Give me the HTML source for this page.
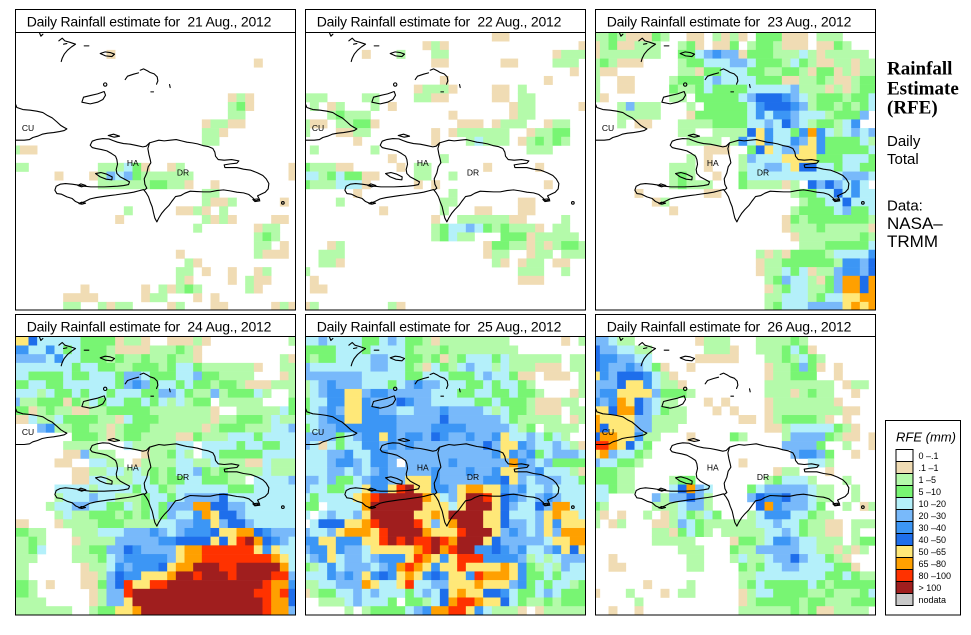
<!DOCTYPE html>
<html><head><meta charset="utf-8">
<style>
html,body{margin:0;padding:0;background:#fff;width:971px;height:635px;overflow:hidden}
svg{position:absolute;left:0;top:0}
.tt{font-family:"Liberation Sans",Arial,sans-serif;font-size:14px;letter-spacing:-0.2px;white-space:pre}
.lb{font-family:"Liberation Sans",Arial,sans-serif;font-size:8.5px}
.lg{font-family:"Liberation Sans",Arial,sans-serif;font-size:9px}
</style></head>
<body>
<svg width="971" height="635" viewBox="0 0 971 635" xmlns="http://www.w3.org/2000/svg" xmlns:xlink="http://www.w3.org/1999/xlink">
<defs>
<clipPath id="cp" clipPathUnits="userSpaceOnUse"><rect x="0" y="0" width="280" height="277.8"/></clipPath>
<g id="coast" transform="translate(-5.3,-2.3) scale(0.33333)" fill="none" stroke="#000" stroke-width="3.3" stroke-linejoin="round" stroke-linecap="round">
<path d="M0,206 L12,212 L20,232 L38,238 L60,240 L80,243 L98,247 L112,256 L126,263 L140,275 L152,286 L162,292 L170,296 L162,301 L148,304 L130,307 L112,309 L96,312 L82,318 L68,322 L58,328 L42,330 L16,330 L0,331"/>
<path d="M240,345 L246,333 L260,328 L278,325 L296,326 L308,331 L322,336 L340,340 L360,342 L380,346 L398,350 L408,348 L418,338 L432,334 L446,330 L462,332 L480,330 L498,328 L514,332 L530,336 L546,338 L562,341 L578,346 L594,349 L608,355 L614,366 L616,378 L624,388 L642,390 L664,388 L686,392 L680,399 L660,401 L642,404 L644,412 L680,412 L700,417 L722,420 L742,428 L758,436 L768,446 L776,460 L774,476 L765,486 L752,492 L742,497 L748,508 L736,512 L728,503 L716,493 L700,488 L680,486 L660,482 L640,479 L620,481 L600,485 L580,485 L560,484 L540,483 L524,489 L512,496 L496,499 L486,512 L476,526 L464,538 L454,550 L446,563 L440,575 L434,564 L430,548 L426,530 L420,515 L415,500 L408,488 L400,478 L385,482 L370,486 L352,489 L336,491 L316,494 L298,496 L278,499 L258,502 L240,506 L224,514 L210,520 L196,514 L186,505 L170,500 L154,492 L140,490 L134,480 L138,468 L150,462 L166,460 L186,462 L206,465 L222,468 L242,470 L262,470 L282,470 L302,469 L322,468 L340,466 L355,463 L358,455 L345,448 L330,440 L320,430 L318,418 L322,402 L320,388 L316,378 L304,370 L290,362 L274,358 L258,355 L246,352 Z"/>
<path d="M418,338 L413,355 L416,372 L420,388 L422,398 L414,410 L410,428 L402,446 L404,462 L410,474 L402,480"/>
<path d="M256,430 L272,427 L290,432 L306,440 L305,449 L288,447 L270,440 Z"/>
<path d="M294,316 L310,312 L328,318 L312,321 Z"/>
<path d="M203,466 L212,461 L227,466 L214,470 Z"/>
<path d="M206,520 L214,516 L226,519 L215,522 Z"/>
<path d="M728,508 L742,506 L749,512 L734,514 Z"/>
<circle cx="818" cy="518" r="4"/>
<path d="M146,32 L156,24 L164,32 L178,36 L196,42 L184,50 L172,60 L162,72 L156,84 L153,94"/>
<path d="M160,42 L170,40"/>
<path d="M222,47 L236,47"/>
<path d="M88,8 L92,18 L98,12"/>
<path d="M270,70 L285,65 L300,67 L313,72 L305,79 L286,77 Z"/>
<path d="M345,148 L352,138 L370,132 L385,128"/>
<path d="M390,120 L400,116 L412,122 L420,127 L432,131 L441,140 L443,152 L439,162"/>
<circle cx="285" cy="163" r="5"/>
<path d="M422,185 L430,185"/>
<path d="M478,163 L480,172"/>
<path d="M215,216 L220,201 L240,196 L262,191 L282,184 L286,195 L278,208 L262,216 L240,221 Z"/>
</g>
</defs>

<!-- Row 1 panels -->
<g transform="translate(15.5,32.5)"><g clip-path="url(#cp)"><g id="p1"></g><use href="#coast" xlink:href="#coast"/>
<text class="lb" x="6.4" y="98.4">CU</text><text class="lb" x="111.4" y="133.7">HA</text><text class="lb" x="161.4" y="143">DR</text></g></g>
<g transform="translate(305.5,32.5)"><g clip-path="url(#cp)"><g id="p2"></g><use href="#coast" xlink:href="#coast"/>
<text class="lb" x="6.4" y="98.4">CU</text><text class="lb" x="111.4" y="133.7">HA</text><text class="lb" x="161.4" y="143">DR</text></g></g>
<g transform="translate(595.5,32.5)"><g clip-path="url(#cp)"><g id="p3"></g><use href="#coast" xlink:href="#coast"/>
<text class="lb" x="6.4" y="98.4">CU</text><text class="lb" x="111.4" y="133.7">HA</text><text class="lb" x="161.4" y="143">DR</text></g></g>
<!-- Row 2 panels -->
<g transform="translate(15.5,336.8)"><g clip-path="url(#cp)"><g id="p4"></g><use href="#coast" xlink:href="#coast"/>
<text class="lb" x="6.4" y="98.4">CU</text><text class="lb" x="111.4" y="133.7">HA</text><text class="lb" x="161.4" y="143">DR</text></g></g>
<g transform="translate(305.5,336.8)"><g clip-path="url(#cp)"><g id="p5"></g><use href="#coast" xlink:href="#coast"/>
<text class="lb" x="6.4" y="98.4">CU</text><text class="lb" x="111.4" y="133.7">HA</text><text class="lb" x="161.4" y="143">DR</text></g></g>
<g transform="translate(595.5,336.8)"><g clip-path="url(#cp)"><g id="p6"></g><use href="#coast" xlink:href="#coast"/>
<text class="lb" x="6.4" y="98.4">CU</text><text class="lb" x="111.4" y="133.7">HA</text><text class="lb" x="161.4" y="143">DR</text></g></g>

<!-- Frames -->
<g fill="none" stroke="#000" stroke-width="1">
<rect x="15.5" y="9.5" width="280" height="23"/><rect x="15.5" y="32.5" width="280" height="277.5"/>
<rect x="305.5" y="9.5" width="280" height="23"/><rect x="305.5" y="32.5" width="280" height="277.5"/>
<rect x="595.5" y="9.5" width="280" height="23"/><rect x="595.5" y="32.5" width="280" height="277.5"/>
<rect x="15.5" y="314.5" width="280" height="22"/><rect x="15.5" y="336.5" width="280" height="278.5"/>
<rect x="305.5" y="314.5" width="280" height="22"/><rect x="305.5" y="336.5" width="280" height="278.5"/>
<rect x="595.5" y="314.5" width="280" height="22"/><rect x="595.5" y="336.5" width="280" height="278.5"/>
</g>

<!-- Titles -->
<text class="tt" x="26.7" y="26.6">Daily Rainfall estimate for  21 Aug., 2012</text>
<text class="tt" x="316.7" y="26.6">Daily Rainfall estimate for  22 Aug., 2012</text>
<text class="tt" x="606.7" y="26.6">Daily Rainfall estimate for  23 Aug., 2012</text>
<text class="tt" x="26.7" y="331.6">Daily Rainfall estimate for  24 Aug., 2012</text>
<text class="tt" x="316.7" y="331.6">Daily Rainfall estimate for  25 Aug., 2012</text>
<text class="tt" x="606.7" y="331.6">Daily Rainfall estimate for  26 Aug., 2012</text>

<!-- Right side text -->
<g font-family="'Liberation Serif',serif" font-weight="bold" font-size="19">
<text x="887" y="74.3">Rainfall</text>
<text x="887" y="94.3">Estimate</text>
<text x="887" y="113.5">(RFE)</text>
</g>
<g font-family="'Liberation Sans',Arial,sans-serif" font-size="15">
<text x="887" y="146">Daily</text>
<text x="887" y="164.2">Total</text>
<text x="887" y="210.7">Data:</text>
</g>
<g font-family="'Liberation Sans',Arial,sans-serif" font-size="17">
<text x="887" y="229">NASA–</text>
<text x="887" y="246.8">TRMM</text>
</g>

<!-- Legend -->
<rect x="885.5" y="420.5" width="75" height="194.5" fill="#fff" stroke="#000" stroke-width="1"/>
<text x="896" y="441.5" font-family="'Liberation Sans',Arial,sans-serif" font-size="13" font-style="italic">RFE (mm)</text>
<g stroke="#000" stroke-width="1">
<rect x="896" y="449.5" width="17" height="12" fill="#ffffff"/>
<rect x="896" y="461.5" width="17" height="12" fill="#f0dcb4"/>
<rect x="896" y="473.5" width="17" height="12" fill="#b4faaa"/>
<rect x="896" y="485.5" width="17" height="12" fill="#78f573"/>
<rect x="896" y="497.5" width="17" height="12" fill="#b4f0fa"/>
<rect x="896" y="509.5" width="17" height="12" fill="#78b9fa"/>
<rect x="896" y="521.5" width="17" height="12" fill="#3c96f5"/>
<rect x="896" y="533.5" width="17" height="12" fill="#1e6eeb"/>
<rect x="896" y="545.5" width="17" height="12" fill="#ffe878"/>
<rect x="896" y="557.5" width="17" height="12" fill="#ffa000"/>
<rect x="896" y="569.5" width="17" height="12" fill="#ff3200"/>
<rect x="896" y="581.5" width="17" height="12" fill="#a01e1e"/>
<rect x="896" y="593.5" width="17" height="12" fill="#c8c8c8"/>
</g>
<g class="lg">
<text x="918.5" y="459">0 –.1</text>
<text x="918.5" y="471">.1 –1</text>
<text x="918.5" y="483">1 –5</text>
<text x="918.5" y="495">5 –10</text>
<text x="918.5" y="507">10 –20</text>
<text x="918.5" y="519">20 –30</text>
<text x="918.5" y="531">30 –40</text>
<text x="918.5" y="543">40 –50</text>
<text x="918.5" y="555">50 –65</text>
<text x="918.5" y="567">65 –80</text>
<text x="918.5" y="579">80 –100</text>
<text x="918.5" y="591">&gt; 100</text>
<text x="918.5" y="603">nodata</text>
</g>
</svg>

<script>
var COL={t:'#f0dcb4',g:'#b4faaa',G:'#78f573',c:'#b4f0fa',b:'#78b9fa',B:'#3c96f5',D:'#1e6eeb',y:'#ffe878',o:'#ffa000',r:'#ff3200',R:'#a01e1e'};
var CW=8.667,CH=8.69;
function draw(id,rows,shift){
  var s='';
  for(var r=0;r<rows.length;r++){
    var row=rows[r];
    if(shift&&row.length==32)row=row[0]+row;
    for(var c=0;c<33;c++){
      var ch=row[c]||'.';var f=COL[ch];if(!f)continue;
      var e=c;while(e+1<33&&(row[e+1]||'.')===ch)e++;
      var x=-4.333+CW*c;
      s+='<rect x="'+x.toFixed(2)+'" y="'+(CH*r).toFixed(2)+'" width="'+(CW*(e-c+1)+0.3).toFixed(2)+'" height="'+(CH+0.3).toFixed(2)+'" fill="'+f+'"/>';
      c=e;
    }
  }
  var g=document.getElementById(id);
  g.innerHTML=s;
}
var P1=["","","...........t.....................","............................t....","","","",
".........................tgt.....",".........................gGt.....",".........................gg......",
"......................tggtt......","......................ggt........","......................gg.........",
"gtt..............................","","gg........gggcGt..tg............t",".....t...tgbcbGgggggg...........t",
"..........ggggggGGggt..t.........","......................gg.........","......................gttg.....t.",
".............g.....ttgt.g........","............t.........gtgt....tt.",".....................g......tgg..",
"............................gGg..","............................gg.t.","...................t........gttt.",
"....................gt...........","...................gg.t..t..tg...","...................gt....t.gtt...",
"........t......t.gtgGg.....gt....","......tttt.....tgg...t.t.........","......gg..gtgg....tg...tt.....tgt"];
var P2=["......................tt.........","..............tgt...............t",".......t...g...gg............tggg",
"...............tt......tt....ggg.","...............................t.","................t...........t....",
".............tgggt....tt.g.......","ggg....gg....ggtt.....tt.gg......",".g.tg...g.t.............tgg.....t",
"...gGggg.........t......tgg......","gtt.ggGGt.........ttt.tggg..tgg..","g...ttgg.......t.tgggggg..tggGG..",
"......t........t...gcggg.tgGgGg..",".g......g.................ggg....","..........t.....g................",
"Ggggtt.....t.gg......t.....t.....","ccgGcGGtt....gg..g...............","Ggggccct.....t.t............t....",
"......t..........g...............","....g...........gg.......tt......",".........t......g...tt...tt......",
"...............t..ggggggtt....g..","...............gGccbcGgGgggt.gg..","...............gGcgg...GGGtggggg.",
"...tg................tGGggtgtgGGg","..ggg................tgg..tgg.ggg","..ggt.................gt.tgg.tt..",
"g........................ggg..g..",".t.......................ttt.....",".tt..............................","",
"tg........gt....................."];
var P3=["ggGgtttGg..tt.gtgt.GGGttt.ggg....","tgGttggg..gGt.ttG.gGGgttt.ttGg...","tggggggg..GGcbBbbtGGGgggcgtggggg.",
"gGgttt....gGGcccbbcGGGgcGgttggtgg","gtt.......ggtGGcccGGggGGgtGGtgtgg","g..tt....gGGGcbccccGGGttggGgttgGG",
"g..tt....GggGcGGGGcccccbgggtgtgGG","gt.......gg.GGGGGcbDDDBbcgGGGgGGc","...gbggg...g.GGGGGcBDDDBbgGGgGgGc",
"...ggggg...tGGGGGGcBcBBbcccgGGGb.","...g.tt...ggggGGGGccbcDbcgGGgcB..","..........gg..ggggDyBccGBoBcgcbcb",
"...........gggg.gBcyBccBbyBGGGGcg",".............ttt..GDycbbyyBGGGGGc","...........g.t...gbcccyyyyGGGcccG",
".........ggg.t...gccbbcyDDccGccGG",".........gGg..t..Gcccccccccccbbbc",".........gGggg...Gggggtg.DbDbcBc.",
".....t.......tt........gGGccDcBcc",".......tg...............gGGccDccc",".........t.............gGGGGcbGGc",
"......................tGgGGGGGGGg","......................tgggGgggggt",".......................tgggggggGg",
"........................gggGGGGGc","...................gtgtGGGGgccccB","...................tggGGGGGGgBBbD",
"...................tggcGctggbBBbD","....................gGbccgtGbooDo","....................tgGccggGbooDo",
"....................ggcccgGccyyoo","....................gGcccbbbbyoyo"];
var P4=["yyDcccccGGGGtggt..tttgt.........g","BBccBcGcGGGgttttgggGgt...........",
"bbbcBccGGGgGggGggGggt.........gt","ccccccGccGGggGGGgGccGggggggt..gg","cGGGGcGGcccGbbcGGGccbGGgggg...tg",
"GccGGccccccGbBbGccGcGGgGGgtttggg","ccgcGGcGccGcccGGbbcGggbgGGGcg..g","bggGGGtGgcGccGGcGcgcgGG.ggggg...G",
"GtgGggttggGGGGGgggggggt..gggggcG","tcggcGGGGggtcGGGggggggtggGGGgcgg","..bBggGGggtgGGGggggggtgGGGgggccb",
"......GGGgtgGGggggttGgggcccGcccc",".....gggg...cgggggcc.ccccGccGGcc",".....ttbggg...tggGcg.ccGGGGGcccc",
"....tt..ccgg.tggggccggcgggttcggg","......ttggccgcgGgGccbGgGggggcggg","......ttccgggccGgGGccGGGgg.ccccb",
"....ccccgccccGccGgccccccGGGccccc","....gcccbccgggGccGcbbbbDcccccccc","...gccbbccGGcgGcGbbbooDDbbcccccc",
"....gcggGGGgGgGcGbccBoyDDbcccccc","t...tggggGGGggggccbbBBybDDbccccc","Ggg...gggcccbbbBbcbBBBDyyooDBbbb",
"gGg...tggggbbbbbBBDDDDyDyrRoDBbc","gGc...ggGGbbDBbbbbyoorrrrrryBycc","gg....gggGcbBBBBBbyoorrrrrrrroyc",
"g......tggcBbBBBDyooRRRrrRRRRRoc","g......ttgbDBByyyoRRrRRRrRRRRrrb","Gg.t...ttGbDryyrrRRRRRRRRRRRrooB",
"Gg......tgbbrRRRRRRRRRRRRRRrrorD","ggg.....tgbbyRRRRRRRRRRRRRRRrooD","ggggggg..gGGyyoRRRRRRRRRRRRRRroob"];
var P5=["ccbccccGGcbcGGgtgggggggg......t.g","GGGGcccGccccGgggGgggggggg........","GgGGccccbbccGGgGtgGcccGcgggggg.gg",
"bcccccccbbccGgtcGgcbccgcgggttt.gg","bbbbbbbcccccGGcccGGGcbccGtt.ttt.g","gcbBbbbcccGcbBbbcccGGcGccGg.....g",
"gcbBByybBBbbbbbcccGGccGGcGGg...tg","GccBByyBbbbDBbbcccccGGcGGGgtttgg.","GcbBbyyBBbbccbbbBbbbbcgcGGgttt.gg",
"ccbBByyBBBBbbbbbDbbbbbbcGggggg.tg","GcbbBBBBBBBbbbbBBBBbbbbbcgG.gggg.","bbbbGcbBByBbBBbDBbbBbbByccbcGcg..",
"bctcGccBBbBbBbbbbbbbbDbyyBbccbcgt","cccbbBccBBbbbbbbbbbbbbByBbBGcbbbc","cccbBBbcBBb.bbbbbBbbbbbboBbcbGGGG",
"cccbbcbcbBbbbbbBbbbBbbByybbBcccgt","bbcbGGcbBBbbyyyBbbbbbBBDybcbbbccG","bccGGccyBByrRyyBBbyooyyBbBccbcccc",
"cGccccyorRRRRRoycbyRRryDBbcbBbccc","GG.ccccoRRRRRRyyycyRRRyDbccDboocc","c.cbccbyRRRRRyyoyRRRRyyDcccbyoyyc",
".cDDDyyorRRRRrybyoRRRyyDbbcbyByyy","bccbyoooyrRRRRoyyyrRRRybBbcbybooo","BByyBBByyrRrRrrRroRRRyDbbbbbcyyoo",
"bBByBbbcyyyyyorRorRRBBDBbBccbByDy","cbBycbbcbBBByroyByrrrBBBBbgcgcbbb","GgcBcbbbcbBoroyByyryyyyoyBGgcgbcc",
"cccBbBbyBDByoyBDByyBroooyBGGcGccc","ggccbbboyccyrccbbyyyoyyybBGcGccgG","tgGGccbcbcccGcbcDyoyyDDBcGGcbcGGG",
"..gggcbcccG.GGgcDorroyyDcGggGgGGG",".....g.gGGGGcbBoorryBcgggt.tggggg"];
var P6=["bbcgg.......tggg...ggggGg........","Dbbccgg......gggt..gggGcGt.......","DBBbbcc.....ttttt...ggGgcGg......",
"DBbbBbcGt..t........tggGbGt.t....","yBbDDDBcgt..........tggGGG..t....","bbbDyyBcggt.........gggggggg.tgg.",
"bBByyyybGGGg........gggtgGgg..t..","BbBoyDbcgg...t.t....tgggggggt....","yyDooDbcGgg...t.t...tggggggggtt..",
"oyyyybbgggg......tt.tgGGGGgt.t...","oDyyybbggg..........ttgcccccGgt..","DooyyBgg...t....Gg....gbbbbGgtt.t",
"rroyDcG...............bbbbG..g..t","yobccGg................bBBbG..t..","bccGGg...........t.......ccg.....",
"GGGgg................tgg...t.....","GGGgg....gGG........gGcccg...g...","ccGgg....cDobc....Gcbbbbbcgg..g..",
"cc.....bgbbDbg....bDBBDbbcgg..g..","Gg.....gggcbbg.....DoBbbbcG..g.tg","gt.t..g.tgcGgcG...gcBBBccGgg.....",
"g.tg...ttgbcGggggggccbccGggtt.ggg",".......ggtGcGg.gggggccbcGggtt.g..",".......ggggg....tGGgcBBbccggg.gGG",
"..........ggg...Gggbbbbbccggtgtg.","..t........gg...gcggcbbDbccGgt...","..tt.......gg....GgGccbbccccGGt..",
".................ggccccccccGGcGgg.","......t....g.....gGcGGGGGcGgGGGGG","t...g...t.gg.....tgccGGGGggGgggGc",
".....g...........tgGGGGGgGGgggGGG","..t..t...........ggggggGgGttgggg."];
draw('p1',P1,false);draw('p2',P2,false);draw('p3',P3,false);
draw('p4',P4,true);draw('p5',P5,false);draw('p6',P6,false);
</script>
</body></html>
